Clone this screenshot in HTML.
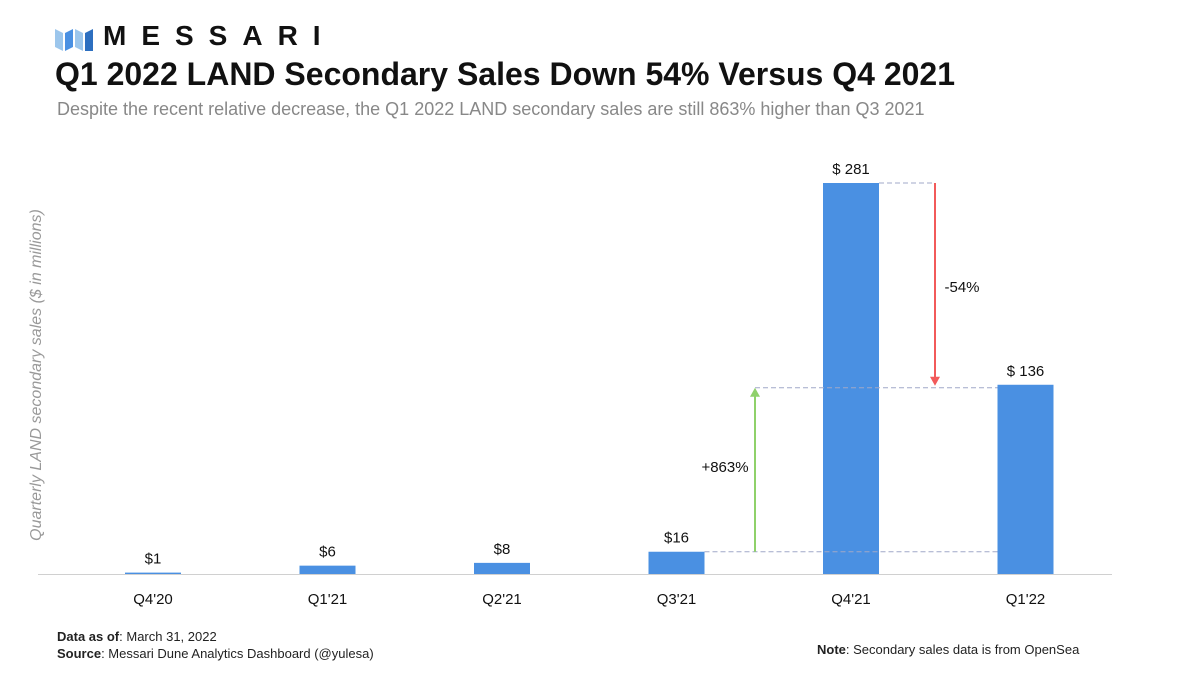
<!DOCTYPE html>
<html><head><meta charset="utf-8"><style>
body{margin:0;width:1200px;height:675px;background:#fff;font-family:"Liberation Sans",sans-serif;overflow:hidden;position:relative}
.abs{position:absolute;white-space:nowrap}
</style></head><body>
<div class="abs" style="left:55px;top:22px;height:30px;">
<svg width="40" height="30" style="position:absolute;left:0;top:3px"><polygon points="0,4 8,8 8,26 0,22" fill="#9cc6ec"/><polygon points="10,8 18,4 18,22 10,26" fill="#4a90e2"/><polygon points="20,4 28,8 28,26 20,22" fill="#9cc6ec"/><polygon points="30,8 38,4 38,26 30,26" fill="#2d6fc0"/></svg>
<span style="position:absolute;left:48px;top:-2px;font-size:28px;font-weight:bold;letter-spacing:15px;color:#111">MESSARI</span></div>
<div class="abs" style="left:55px;top:56px;font-size:32px;font-weight:bold;color:#111">Q1 2022 LAND Secondary Sales Down 54% Versus Q4 2021</div>
<div class="abs" style="left:57px;top:99px;font-size:18px;color:#888">Despite the recent relative decrease, the Q1 2022 LAND secondary sales are still 863% higher than Q3 2021</div>
<div class="abs" style="left:57px;top:629px;font-size:13px;color:#222"><b>Data as of</b>: March 31, 2022</div>
<div class="abs" style="left:57px;top:646px;font-size:13px;color:#222"><b>Source</b>: Messari Dune Analytics Dashboard (@yulesa)</div>
<div class="abs" style="left:817px;top:642px;font-size:13px;color:#222"><b>Note</b>: Secondary sales data is from OpenSea</div>
<svg id="chart" class="abs" style="left:0;top:0" width="1200" height="675"></svg>
<script>
const categories=["Q4'20","Q1'21","Q2'21","Q3'21","Q4'21","Q1'22"];
const values=[1,6,8,16,281,136];
const valueLabels=["$1","$6","$8","$16","$ 281","$ 136"];
const svg=document.getElementById('chart');const NS='http://www.w3.org/2000/svg';
const base=574,scale=(574-183)/281;
const y=v=>base-v*scale;
const x=i=>153+i*174.5;
const bw=56;
function mk(t,a,p){const e=document.createElementNS(NS,t);for(const k in a)e.setAttribute(k,a[k]);(p||svg).appendChild(e);return e;}
const ax=mk('line',{x1:38,x2:1112,y1:base+0.5,y2:base+0.5,stroke:'#d0d0d0','stroke-width':1});


const yt=mk('text',{x:0,y:0,transform:'translate(41,375) rotate(-90)','text-anchor':'middle','font-size':16,'font-style':'italic',fill:'#999','font-family':'Liberation Sans'});
yt.textContent='Quarterly LAND secondary sales ($ in millions)';


values.forEach((v,i)=>{
 const r=mk('rect',{x:x(i)-bw/2,y:y(v),width:bw,height:base-y(v),fill:'#4a90e2'});
 
 
 const t=mk('text',{x:x(i),y:y(v)-9,'text-anchor':'middle','font-size':15,fill:'#111','font-family':'Liberation Sans'});
 t.textContent=valueLabels[i];
 
 
 const c=mk('text',{x:x(i),y:base+30,'text-anchor':'middle','font-size':15,fill:'#111','font-family':'Liberation Sans'});
 c.textContent=categories[i];
 
 
});
const dash={stroke:'#a0a8c8','stroke-width':1,'stroke-dasharray':'5,3'};
function dl(x1,x2,yy){const l=mk('line',Object.assign({x1,x2,y1:yy,y2:yy},dash));}
dl(x(3)+bw/2,x(5)-bw/2,y(values[3]));
dl(x(4)+bw/2,935,y(values[4]));
dl(755,x(5)-bw/2,y(values[5])+3);
const gy1=y(values[3]),gy2=y(values[5])+3;
const g=mk('line',{x1:755,x2:755,y1:gy1,y2:gy2+8,stroke:'#8fd16a','stroke-width':2});


mk('polygon',{points:`750,${gy2+9} 760,${gy2+9} 755,${gy2}`,fill:'#8fd16a'});
const gt=mk('text',{x:725,y:472,'text-anchor':'middle','font-size':15,fill:'#111','font-family':'Liberation Sans'});gt.textContent='+863%';


const ry1=y(values[4]),ry2=y(values[5])+1;
const rr=mk('line',{x1:935,x2:935,y1:ry1,y2:ry2-8,stroke:'#f25a5a','stroke-width':2});


mk('polygon',{points:`930,${ry2-9} 940,${ry2-9} 935,${ry2}`,fill:'#f25a5a'});
const rt=mk('text',{x:962,y:292,'text-anchor':'middle','font-size':15,fill:'#111','font-family':'Liberation Sans'});rt.textContent='-54%';


</script>
</body></html>
